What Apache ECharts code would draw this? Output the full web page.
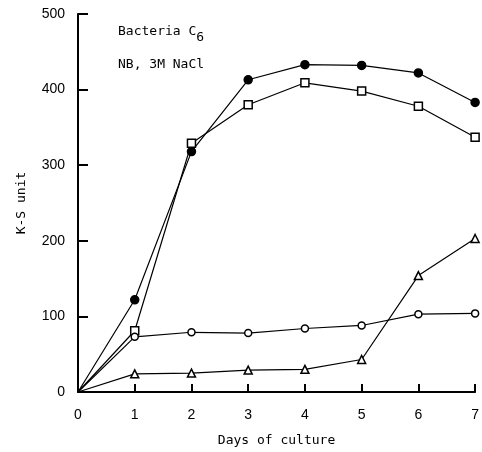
<!DOCTYPE html>
<html><head><meta charset="utf-8">
<script src="https://cdn.jsdelivr.net/npm/echarts@6/dist/echarts.min.js"></script>
<style>html,body{margin:0;padding:0;background:#fff}#c{width:482px;height:452px}</style>
</head><body><div id="c"></div>
<script>
const days = [0, 1, 2, 3, 4, 5, 6, 7];
const filledCircle = [0, 122, 318, 413, 433, 432, 422, 383];
const openSquare = [0, 81, 329, 380, 409, 398, 378, 337];
const openCircle = [0, 73, 79, 78, 84, 88, 103, 104];
const openTriangle = [0, 24, 25, 29, 30, 43, 154, 203];
const yTicks = [0, 100, 200, 300, 400, 500];

function mk(vals, symbol, size, fill) {
  return {
    type: 'line',
    data: days.map((d, i) => i === 0 ? {value: [d, vals[i]], symbol: 'none'} : [d, vals[i]]),
    symbol: symbol, symbolSize: size, showAllSymbol: true,
    lineStyle: {color: '#000', width: 1.2},
    itemStyle: {color: fill, borderColor: '#000', borderWidth: 1.5},
    animation: false, z: fill === '#000' ? 3 : 4
  };
}
const chart = echarts.init(document.getElementById('c'));
const mono = 'DejaVu Sans Mono';
chart.setOption({
  backgroundColor: '#fff',
  grid: {left: 78, right: 4, top: 14, bottom: 59},
  xAxis: {
    type: 'value', min: 0, max: 7, interval: 1,
    name: 'Days of culture', nameLocation: 'middle', nameGap: 42,
    nameTextStyle: {fontFamily: mono, fontSize: 13, color: '#000'},
    axisLine: {lineStyle: {color: '#000', width: 2}},
    axisTick: {inside: true, length: 8, lineStyle: {color: '#000', width: 2}},
    axisLabel: {fontFamily: 'Liberation Sans', fontSize: 14, color: '#000', margin: 16},
    splitLine: {show: false}
  },
  yAxis: {
    type: 'value', min: 0, max: 500, interval: 100,
    name: 'K-S unit', nameLocation: 'middle', nameGap: 50,
    nameTextStyle: {fontFamily: mono, fontSize: 13, color: '#000'},
    axisLine: {show: true, lineStyle: {color: '#000', width: 2}},
    axisTick: {show: true, inside: true, length: 10, lineStyle: {color: '#000', width: 2}},
    axisLabel: {fontFamily: 'Liberation Sans', fontSize: 14, color: '#000', margin: 13,
      formatter: v => yTicks.includes(v) ? String(v) : ''},
    splitLine: {show: false}
  },
  title: {
    left: 113, top: 10,
    text: '{a|Bacteria C}{s|6}\n{a|NB, 3M NaCl}',
    textStyle: {
      fontWeight: 'normal',
      lineHeight: 33,
      rich: {
        a: {fontFamily: mono, fontSize: 13, fontWeight: 'normal', color: '#000', lineHeight: 33},
        s: {fontFamily: mono, fontSize: 13, fontWeight: 'normal', color: '#000', padding: [12, 0, 0, 0], lineHeight: 33}
      }
    }
  },
  series: [
    mk(filledCircle, 'circle', 8, '#000'),
    mk(openSquare, 'rect', 8, '#fff'),
    mk(openCircle, 'circle', 7, '#fff'),
    mk(openTriangle, 'triangle', 8, '#fff')
  ]
});
</script></body></html>
